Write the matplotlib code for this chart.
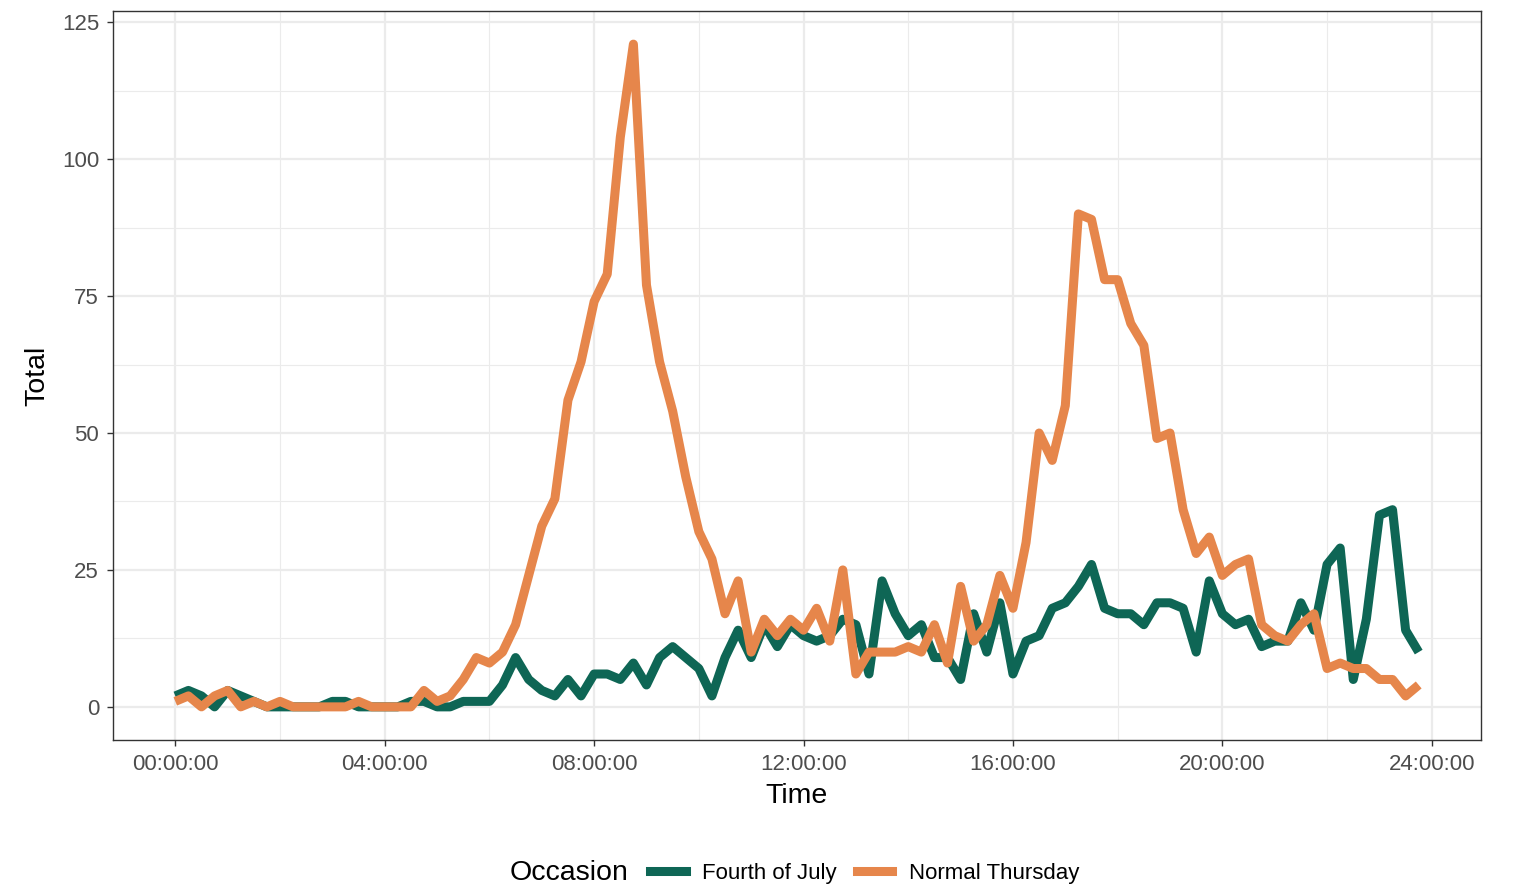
import matplotlib
matplotlib.use("Agg")
import matplotlib.pyplot as plt
import numpy as np
from matplotlib.lines import Line2D

plt.rcParams['font.family'] = ['Liberation Sans', 'DejaVu Sans']

# time of day in 15-minute steps (hours)
hours = [i * 0.25 for i in range(96)]

fourth_of_july = [2, 3, 2, 0, 3, 2, 1, 0, 0, 0, 0, 0, 1, 1, 0, 0,
                  0, 0, 1, 1, 0, 0, 1, 1, 1, 4, 9, 5, 3, 2, 5, 2,
                  6, 6, 5, 8, 4, 9, 11, 9, 7, 2, 9, 14, 9, 15, 11, 15,
                  13, 12, 13, 16, 15, 6, 23, 17, 13, 15, 9, 9, 5, 17, 10, 19,
                  6, 12, 13, 18, 19, 22, 26, 18, 17, 17, 15, 19, 19, 18, 10, 23,
                  17, 15, 16, 11, 12, 12, 19, 14, 26, 29, 5, 16, 35, 36, 14, 10]

normal_thursday = [1, 2, 0, 2, 3, 0, 1, 0, 1, 0, 0, 0, 0, 0, 1, 0,
                   0, 0, 0, 3, 1, 2, 5, 9, 8, 10, 15, 24, 33, 38, 56, 63,
                   74, 79, 104, 121, 77, 63, 54, 42, 32, 27, 17, 23, 10, 16, 13, 16,
                   14, 18, 12, 25, 6, 10, 10, 10, 11, 10, 15, 8, 22, 12, 15, 24,
                   18, 30, 50, 45, 55, 90, 89, 78, 78, 70, 66, 49, 50, 36, 28, 31,
                   24, 26, 27, 15, 13, 12, 15, 17, 7, 8, 7, 7, 5, 5, 2, 4]

series_names = ["Fourth of July", "Normal Thursday"]
colors = ["#0E6655", "#E6864B"]

x_ticks = [0, 4, 8, 12, 16, 20, 24]
x_labels = ["00:00:00", "04:00:00", "08:00:00", "12:00:00", "16:00:00", "20:00:00", "24:00:00"]
y_ticks = [0, 25, 50, 75, 100, 125]

fig = plt.figure(figsize=(15.18, 8.89), dpi=100)
ax = fig.add_axes([113 / 1518, 1 - 740 / 889, (1481 - 113) / 1518, (740 - 11) / 889])

lw = 6.5
for vals, name, c in zip([fourth_of_july, normal_thursday], series_names, colors):
    ax.plot(hours, vals, color=c, lw=lw, solid_joinstyle='round', solid_capstyle='butt', zorder=3)

ax.set_xlim(-1.19, 24.94)
ax.set_ylim(-6.05, 127.05)
ax.set_xticks(x_ticks)
ax.set_xticklabels(x_labels)
ax.set_yticks(y_ticks)
ax.set_xticks([2, 6, 10, 14, 18, 22], minor=True)
ax.set_yticks([12.5, 37.5, 62.5, 87.5, 112.5], minor=True)

ax.grid(which='major', color='#EBEBEB', lw=1.6, zorder=0)
ax.grid(which='minor', color='#EBEBEB', lw=0.8, zorder=0)
ax.set_axisbelow(True)

for s in ax.spines.values():
    s.set_color('#333333')
    s.set_linewidth(1.0)

ax.tick_params(which='major', length=4, width=1.0, color='#333333', labelsize=16, labelcolor='#4D4D4D', pad=6)
ax.tick_params(which='minor', length=0)

ax.set_xlabel("Time", fontsize=20.5, color='black', labelpad=6)
ax.set_ylabel("Total", fontsize=20.5, color='black', labelpad=8)

# legend at bottom
fig.text(569 / 1518, 1 - 873 / 889, "Occasion", fontsize=20.5, ha='center', va='center')
handles = [Line2D([0], [0], color=c, lw=lw) for c in colors]
leg = fig.legend(handles, series_names, loc='center left', bbox_to_anchor=(650 / 1518, 1 - 873 / 889),
                 ncol=2, frameon=False, fontsize=16, handlelength=1.6, handletextpad=0.75,
                 columnspacing=0.9, borderaxespad=0, borderpad=0)

fig.savefig("out.png", dpi=100)
